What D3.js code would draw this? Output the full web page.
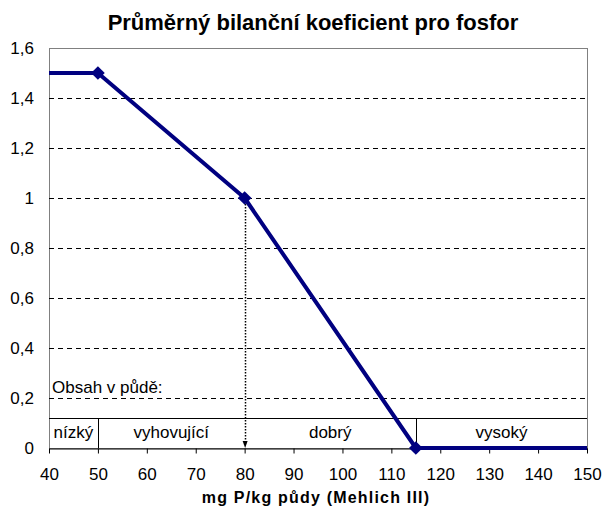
<!DOCTYPE html>
<html>
<head>
<meta charset="utf-8">
<script src="https://cdn.jsdelivr.net/npm/d3@7"></script>
<style>
  body { margin: 0; background: #fff; }
  text { font-family: "Liberation Sans", Arial, sans-serif; fill: #000; }
</style>
</head>
<body>
<div id="chart"></div>
<script>
// data
const xValues = [40, 50, 80, 115, 150];
const yValues = [1.5, 1.5, 1, 0, 0];
const markerIdx = [1, 2, 3];
const yTicks = [0, 0.2, 0.4, 0.6, 0.8, 1, 1.2, 1.4, 1.6];
const xTicks = [40, 50, 60, 70, 80, 90, 100, 110, 120, 130, 140, 150];
const classBounds = [40, 50, 80, 115, 150];
const classLabels = ["nízký", "vyhovující", "dobrý", "vysoký"];
const bandTop = 0.12;

const width = 605, height = 508;
const margin = {top: 48, right: 18, bottom: 60, left: 49};

const svg = d3.select("#chart").append("svg")
    .attr("width", width)
    .attr("height", height);

const x = d3.scaleLinear().domain([40, 150]).range([margin.left, width - margin.right]);
const y = d3.scaleLinear().domain([0, 1.6]).range([height - margin.bottom, margin.top]);

// plot frame (grey)
svg.append("rect")
    .attr("x", x(40) + 0.5).attr("y", y(1.6) + 0.5)
    .attr("width", x(150) - x(40)).attr("height", y(0) - y(1.6))
    .attr("fill", "none").attr("stroke", "#808080").attr("stroke-width", 1);

// gridlines
svg.append("g").selectAll("line")
    .data(yTicks.filter(d => d > 0 && d < 1.6))
    .enter().append("line")
    .attr("x1", x(40)).attr("x2", x(150))
    .attr("y1", d => Math.round(y(d)) + 0.5).attr("y2", d => Math.round(y(d)) + 0.5)
    .attr("stroke", "#000").attr("stroke-dasharray", "5,4").attr("stroke-width", 1);

// y labels
svg.append("g").selectAll("text")
    .data(yTicks).enter().append("text")
    .attr("x", x(40) - 15)
    .attr("y", d => y(d) + 6)
    .attr("text-anchor", "end")
    .style("font-size", "17px")
    .text(d => d3.format(".1f")(d).replace(".0", "").replace(".", ","));

// class band
svg.append("line")
    .attr("x1", x(40)).attr("x2", x(150))
    .attr("y1", Math.round(y(bandTop)) + 0.5).attr("y2", Math.round(y(bandTop)) + 0.5)
    .attr("stroke", "#000");
svg.append("g").selectAll("line")
    .data([classBounds[1], classBounds[3]]).enter().append("line")
    .attr("x1", d => Math.round(x(d)) + 0.5).attr("x2", d => Math.round(x(d)) + 0.5)
    .attr("y1", y(bandTop)).attr("y2", y(0))
    .attr("stroke", "#000");
svg.append("g").selectAll("text")
    .data(classLabels).enter().append("text")
    .attr("x", (d, i) => (x(classBounds[i]) + x(classBounds[i + 1])) / 2)
    .attr("y", y(0) - 10)
    .attr("text-anchor", "middle")
    .style("font-size", "17px")
    .text(d => d);
svg.append("text")
    .attr("x", x(40) + 3).attr("y", y(0.2) - 5)
    .style("font-size", "17px")
    .text("Obsah v půdě:");

// dotted drop line at 80
svg.append("line")
    .attr("x1", Math.round(x(80)) + 0.5).attr("x2", Math.round(x(80)) + 0.5)
    .attr("y1", y(1)).attr("y2", y(0) - 4)
    .attr("stroke", "#000").attr("stroke-width", 1.5).attr("stroke-dasharray", "1.5,1.5");
svg.append("path")
    .attr("d", `M${x(80) - 2},${y(0) - 7}L${x(80) + 3},${y(0) - 7}L${x(80) + 0.5},${y(0)}Z`)
    .attr("fill", "#000");

// x axis
const xAxis = svg.append("g")
    .attr("transform", `translate(0,${Math.round(y(0)) + 0.5})`)
    .call(d3.axisBottom(x).tickValues(xTicks).tickSize(5).tickSizeOuter(0).tickPadding(14));
xAxis.select(".domain").attr("stroke", "#000");
xAxis.selectAll("text").style("font-size", "17px")
    .style("font-family", "'Liberation Sans', Arial, sans-serif");

// series line
const line = d3.line().x(d => x(d[0])).y(d => y(d[1]));
const pts = xValues.map((d, i) => [d, yValues[i]]);
svg.append("path")
    .datum(pts)
    .attr("d", line)
    .attr("fill", "none")
    .attr("stroke", "#000080")
    .attr("stroke-width", 4)
    .attr("stroke-linejoin", "round");

svg.append("g").selectAll("path")
    .data(markerIdx.map(i => pts[i])).enter().append("path")
    .attr("d", d3.symbol().type(d3.symbolDiamond2).size(120))
    .attr("transform", d => `translate(${x(d[0])},${y(d[1])})`)
    .attr("fill", "#000080");

// titles
svg.append("text")
    .attr("x", 313).attr("y", 30)
    .attr("text-anchor", "middle")
    .style("font-size", "22px").style("font-weight", "bold")
    .text("Průměrný bilanční koeficient pro fosfor");
svg.append("text")
    .attr("x", 316).attr("y", 503)
    .attr("text-anchor", "middle")
    .style("font-size", "16px").style("font-weight", "bold")
    .style("letter-spacing", "1.2px")
    .text("mg P/kg půdy (Mehlich III)");
</script>
</body>
</html>
